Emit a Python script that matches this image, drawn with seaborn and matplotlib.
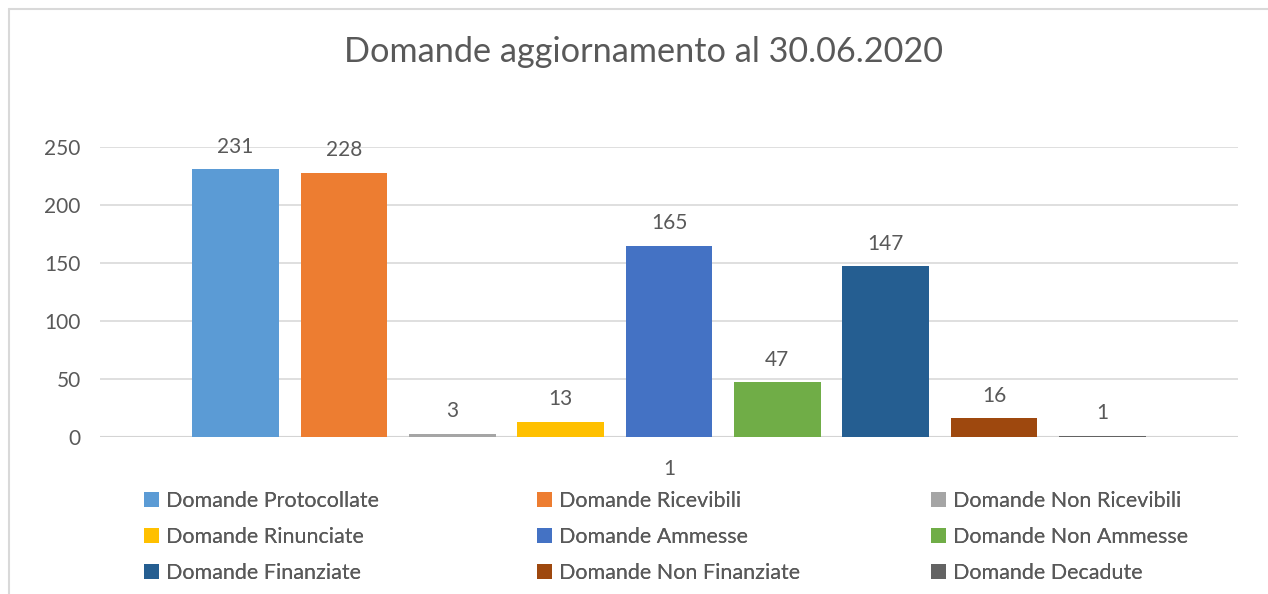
import matplotlib
matplotlib.use("Agg")
import matplotlib.pyplot as plt
import seaborn as sns
import pandas as pd
from matplotlib.lines import Line2D
from matplotlib.patches import Patch

# dati
serie = ['Domande Protocollate', 'Domande Ricevibili', 'Domande Non Ricevibili',
         'Domande Rinunciate', 'Domande Ammesse', 'Domande Non Ammesse',
         'Domande Finanziate', 'Domande Non Finanziate', 'Domande Decadute']
valori = [231, 228, 3, 13, 165, 47, 147, 16, 1]
categoria = ['1'] * len(serie)
colori = ['#5B9BD5', '#ED7D31', '#A5A5A5', '#FFC000', '#4472C4',
          '#70AD47', '#255E91', '#9E480E', '#636363']

df = pd.DataFrame({'cat': categoria, 'serie': serie, 'valore': valori})

sns.set_theme(style="white")
plt.rcParams['font.family'] = ['Lato', 'DejaVu Sans']
grigio = '#595959'

fig = plt.figure(figsize=(12.68, 5.94), dpi=100)
ax = fig.add_axes([100 / 1268, 157 / 594, 1138 / 1268, 290 / 594])

sns.barplot(data=df, x='cat', y='valore', hue='serie', hue_order=serie,
            palette=colori, width=0.857, gap=0.2, saturation=1,
            linewidth=0, legend=False, ax=ax)

ax.set_xlim(-0.5, 0.5)
ax.set_ylim(0, 250)
ax.set_yticks(range(0, 251, 50))
ax.yaxis.grid(True, color='#D9D9D9', linewidth=1.2)
ax.set_axisbelow(True)
ax.axhline(0, color='#BFBFBF', linewidth=1.5, zorder=0.5)
for s in ax.spines.values():
    s.set_visible(False)
ax.set_xlabel('')
ax.set_ylabel('')
ax.tick_params(axis='y', labelsize=15, colors=grigio, pad=14, length=0)
ax.tick_params(axis='x', labelsize=15, colors=grigio, pad=16, length=0)

for c in ax.containers:
    ax.bar_label(c, fmt='%d', padding=9, fontsize=15, color=grigio)

fig.suptitle('Domande aggiornamento al 30.06.2020', fontsize=24.7, color=grigio,
             x=643 / 1268, y=1 - 52 / 594, va='center')

# legenda su tre colonne, ordine per righe
col_x = [144, 537, 931]
for j, x0 in enumerate(col_x):
    nomi = serie[j::3]
    handles = [Patch(facecolor=c, edgecolor='none') for c in colori[j::3]]
    leg = fig.legend(handles, nomi, loc='upper left',
                     bbox_to_anchor=(x0 / 1268, 1 - 491 / 594),
                     frameon=False, fontsize=15.5, labelcolor=grigio,
                     handlelength=0.7, handleheight=0.7, handletextpad=0.3,
                     labelspacing=0.74, borderpad=0, borderaxespad=0)
    fig.add_artist(leg)

# cornice
fig.add_artist(Line2D([9 / 1268, 1], [1 - 9 / 594, 1 - 9 / 594], color='#D9D9D9', linewidth=1.5))
fig.add_artist(Line2D([9 / 1268, 9 / 1268], [0, 1 - 9 / 594], color='#D9D9D9', linewidth=1.5))

fig.savefig('out.png', dpi=100)
